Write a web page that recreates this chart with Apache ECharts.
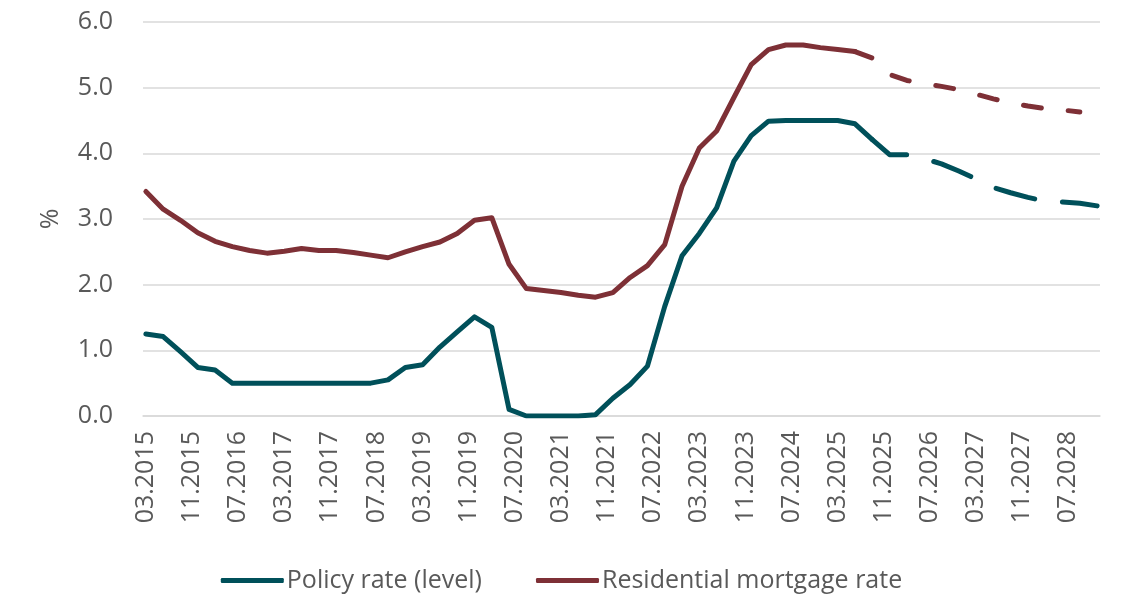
<!DOCTYPE html>
<html>
<head>
<meta charset="utf-8">
<script src="https://cdn.jsdelivr.net/npm/echarts@6/dist/echarts.min.js"></script>
<style>
  html, body { margin: 0; padding: 0; background: #fff; }
  #chart { width: 1123px; height: 595px; }
</style>
</head>
<body>
<div id="chart"></div>
<script>

// monthly categories, 03.2015 .. 12.2028, quarterly observations
var startYear = 2015, startMonth = 3, monthCount = 166;
var months = [];
for (var i = 0; i < monthCount; i++) {
    var m = (startMonth - 1 + i) % 12 + 1;
    var y = startYear + Math.floor((startMonth - 1 + i) / 12);
    months.push((m < 10 ? '0' + m : '' + m) + '.' + y);
}
var quarters = months.filter(function (d, i) { return i % 3 === 0; });

var yTicks = [0, 1, 2, 3, 4, 5, 6];

// policy rate, quarters 0..42 actual, 42..55 forecast
var policyActual = [1.25, 1.21, 0.98, 0.74, 0.70, 0.50, 0.50, 0.50, 0.50, 0.50,
    0.50, 0.50, 0.50, 0.50, 0.55, 0.74, 0.78, 1.05, 1.28, 1.51,
    1.35, 0.10, 0.00, 0.00, 0.00, 0.00, 0.02, 0.27, 0.48, 0.76,
    1.67, 2.44, 2.78, 3.17, 3.88, 4.27, 4.49, 4.50, 4.50, 4.50,
    4.50, 4.45, 4.21];
var policyForecastStart = 42;
var policyForecast = [4.21, 3.98, 3.98, 3.92, 3.84, 3.73, 3.61, 3.48, 3.40, 3.33,
    3.27, 3.26, 3.24, 3.20];

// residential mortgage rate, quarters 0..41 actual, 41..54 forecast
var mortgageActual = [3.42, 3.15, 2.98, 2.79, 2.66, 2.58, 2.52, 2.48, 2.51, 2.55,
    2.52, 2.52, 2.49, 2.45, 2.41, 2.50, 2.58, 2.65, 2.78, 2.98,
    3.02, 2.31, 1.94, 1.91, 1.88, 1.84, 1.81, 1.88, 2.11, 2.29,
    2.61, 3.50, 4.08, 4.34, 4.85, 5.35, 5.58, 5.65, 5.65, 5.61,
    5.58, 5.55];
var mortgageForecastStart = 41;
var mortgageForecast = [5.55, 5.45, 5.20, 5.11, 5.06, 5.02, 4.97, 4.90, 4.83, 4.77,
    4.72, 4.68, 4.66, 4.63];

var policyName = 'Policy rate (level)';
var mortgageName = 'Residential mortgage rate';
var policyColor = '#00505A';
var mortgageColor = '#7E3036';

function toPoints(values, offset) {
    return values.map(function (v, i) {
        return [quarters[offset + i], v];
    });
}

function lineSeries(name, color, data, dash) {
    return {
        name: name,
        type: 'line',
        data: data,
        symbol: 'none',
        color: color,
        lineStyle: {
            color: color,
            width: 5,
            type: dash || 'solid',
            cap: 'round',
            join: 'round'
        },
        emphasis: { disabled: true }
    };
}

var txt = '#595959';
var font = "'Open Sans', sans-serif";

var chart = echarts.init(document.getElementById('chart'), null, { renderer: 'canvas' });
var option = {
    animation: false,
    textStyle: { fontFamily: font },
    grid: { left: 143, right: 23, top: 22, bottom: 179, containLabel: false },
    legend: {
        data: [policyName, mortgageName],
        top: 563,
        left: 'center',
        icon: 'roundRect',
        itemWidth: 63,
        itemHeight: 5,
        itemGap: 54,
        textStyle: { color: txt, fontSize: 25, fontFamily: font, padding: [0, 0, 0, -2] }
    },
    xAxis: {
        type: 'category',
        data: months,
        boundaryGap: true,
        axisTick: { show: false },
        axisLine: { lineStyle: { color: '#D9D9D9', width: 1.5 } },
        axisLabel: {
            interval: 7,
            rotate: 90,
            margin: 15,
            color: txt,
            fontSize: 25,
            fontFamily: font
        },
        splitLine: { show: false }
    },
    yAxis: {
        type: 'value',
        min: yTicks[0],
        max: yTicks[yTicks.length - 1],
        interval: 1,
        name: '%',
        nameLocation: 'middle',
        nameRotate: 90,
        nameGap: 80,
        nameTextStyle: { color: txt, fontSize: 25, fontFamily: font },
        axisLine: { show: false },
        axisTick: { show: false },
        axisLabel: {
            margin: 30,
            color: txt,
            fontSize: 25,
            fontFamily: font,
            formatter: function (v) { return v.toFixed(1); }
        },
        splitLine: { lineStyle: { color: '#D9D9D9', width: 1.5 } }
    },
    series: [
        lineSeries(policyName, policyColor, toPoints(policyActual, 0)),
        lineSeries(policyName, policyColor, toPoints(policyForecast, policyForecastStart), [40, 28]),
        lineSeries(mortgageName, mortgageColor, toPoints(mortgageActual, 0)),
        lineSeries(mortgageName, mortgageColor, toPoints(mortgageForecast, mortgageForecastStart), [18, 27])
    ]
};

option && chart.setOption(option);
</script>
</body>
</html>
